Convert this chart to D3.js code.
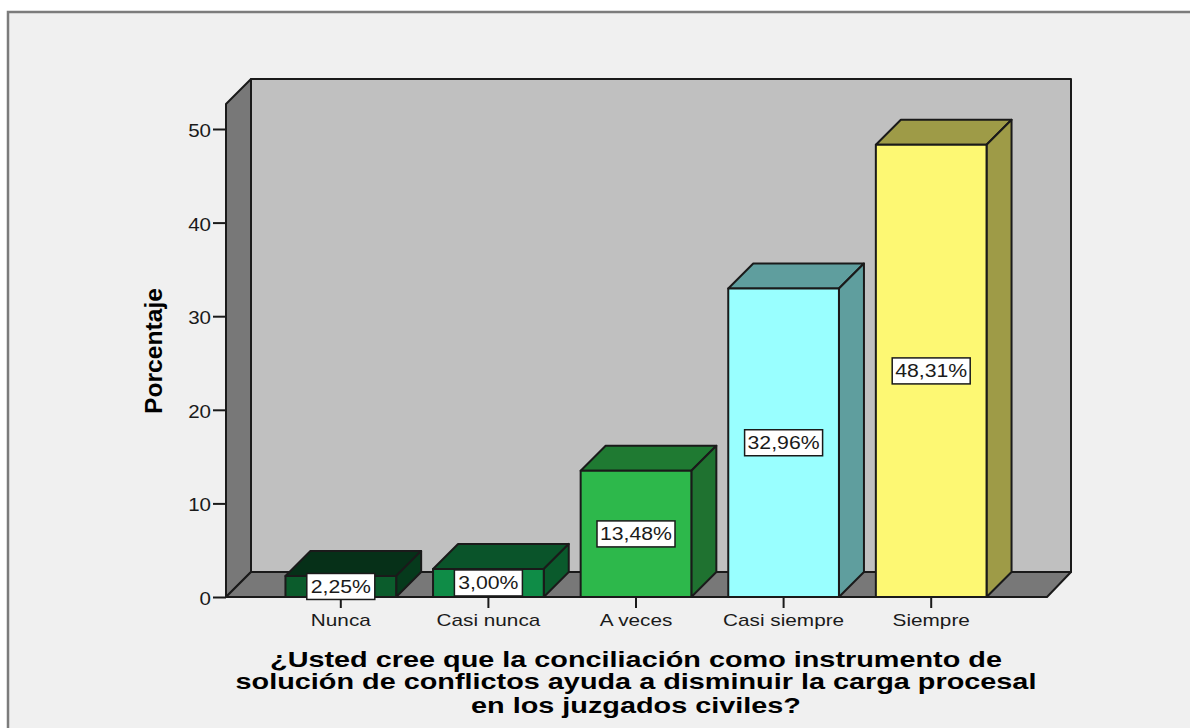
<!DOCTYPE html>
<html><head><meta charset="utf-8">
<script src="https://cdn.jsdelivr.net/npm/d3@7"></script>
<style>
html,body{margin:0;padding:0;background:#fff;overflow:hidden}
svg{display:block;font-family:"Liberation Sans",Arial,sans-serif}
</style></head><body>
<svg id="c" width="1190" height="728"></svg>
<script>
const categories = ["Nunca","Casi nunca","A veces","Casi siempre","Siempre"];
const percentages = [2.25,3.00,13.48,32.96,48.31];
const percentLabels = ["2,25%","3,00%","13,48%","32,96%","48,31%"];
const frontColors = ["#0b5c2c","#0f8c47","#2db84b","#99ffff","#fdf873"];
const topColors = ["#063018","#0a542a","#1f7a32","#5f9e9e","#9e9b47"];
const sideColors = ["#063a1c","#0a5a2c","#1f7230","#5f9e9e","#9e9b47"];
const yTicks = [0,10,20,30,40,50];
const titleLines = ["¿Usted cree que la conciliación como instrumento de","solución de conflictos ayuda a disminuir la carga procesal","en los juzgados civiles?"];
const yTitle = "Porcentaje";

const svg = d3.select("#c");
const y = d3.scaleLinear().domain([0,50]).range([597,129]);
const x = d3.scaleBand().domain(categories).range([267,1005]).paddingInner(0.25).paddingOuter(0.125);
const depth = 25, left = 226, right = 1047, topY = 104;
const ink = "#1a1a1a";

// stretch a text to the width it has in the reference
const stretch = (sel,scale)=>sel.each(function(){
  d3.select(this).attr("lengthAdjust","spacingAndGlyphs")
    .attr("textLength",this.getComputedTextLength()*scale);
});

// panel
svg.append("rect").attr("x",8).attr("y",12).attr("width",1190).attr("height",730)
  .attr("fill","#f0f0f0").attr("stroke","#7c7c7c").attr("stroke-width",2.5);

const poly = (pts,fill,sw=2)=>svg.append("polygon").attr("points",pts.map(p=>p.join(",")).join(" "))
  .attr("fill",fill).attr("stroke",ink).attr("stroke-width",sw).attr("stroke-linejoin","round");

// walls
poly([[left+depth,topY-depth],[right+depth-1,topY-depth],[right+depth-1,y(0)-depth],[left+depth,y(0)-depth]],"#c0c0c0");
poly([[left,topY],[left+depth,topY-depth],[left+depth,y(0)-depth],[left,y(0)]],"#787878");
poly([[left,y(0)],[left+depth,y(0)-depth],[right+depth-1,y(0)-depth],[right,y(0)]],"#787878");

// axes
const yAxis = d3.axisLeft(y).tickValues(yTicks).tickSize(13).tickPadding(2);
const yG = svg.append("g").attr("transform",`translate(${left},0)`).call(yAxis);
const xAxis = d3.axisBottom(x).tickSize(11).tickPadding(6);
const xG = svg.append("g").attr("transform",`translate(0,${y(0)})`).call(xAxis);
[yG,xG].forEach(g=>{
  g.select(".domain").remove();
  g.selectAll("line").attr("stroke",ink).attr("stroke-width",2);
  g.selectAll("text").attr("fill","#1a1a1a").attr("font-family",'"Liberation Sans",Arial,sans-serif').attr("font-size",17);
});
yG.selectAll("text").attr("font-size",18).attr("dy","0.42em");
stretch(yG.selectAll("text"),1.14);
stretch(xG.selectAll("text"),1.22);

// bars
categories.forEach((c,i)=>{
  const x0=x(c), x1=x0+x.bandwidth(), yt=y(percentages[i]), yb=y(0);
  poly([[x0,yt],[x0+depth,yt-depth],[x1+depth,yt-depth],[x1,yt]],topColors[i]);
  poly([[x1,yt],[x1+depth,yt-depth],[x1+depth,yb-depth],[x1,yb]],sideColors[i]);
  poly([[x0,yt],[x1,yt],[x1,yb],[x0,yb]],frontColors[i]);
});

// value labels
categories.forEach((c,i)=>{
  const cx=x(c)+x.bandwidth()/2, cy=(y(percentages[i])+y(0))/2;
  const w=percentLabels[i].length>5?78:68, h=26;
  svg.append("rect").attr("x",cx-w/2).attr("y",cy-h/2).attr("width",w).attr("height",h)
    .attr("fill","#fff").attr("stroke",ink).attr("stroke-width",1.5);
  svg.append("text").attr("x",cx).attr("y",cy+6.5).attr("text-anchor","middle")
    .attr("font-size",18).attr("fill","#1a1a1a").text(percentLabels[i])
    .call(stretch,1.18);
});

// titles
svg.append("text").attr("transform","translate(162,351) rotate(-90)").attr("text-anchor","middle")
  .attr("font-weight","bold").attr("font-size",23).attr("fill","#000").text(yTitle)
  .call(stretch,1.07);
const titleY=[667,689,713];
titleLines.forEach((t,i)=>svg.append("text").attr("x",636).attr("y",titleY[i]).attr("text-anchor","middle")
  .attr("font-weight","bold").attr("font-size",22).attr("fill","#000").text(t)
  .call(stretch,1.31));
</script>
</body></html>
